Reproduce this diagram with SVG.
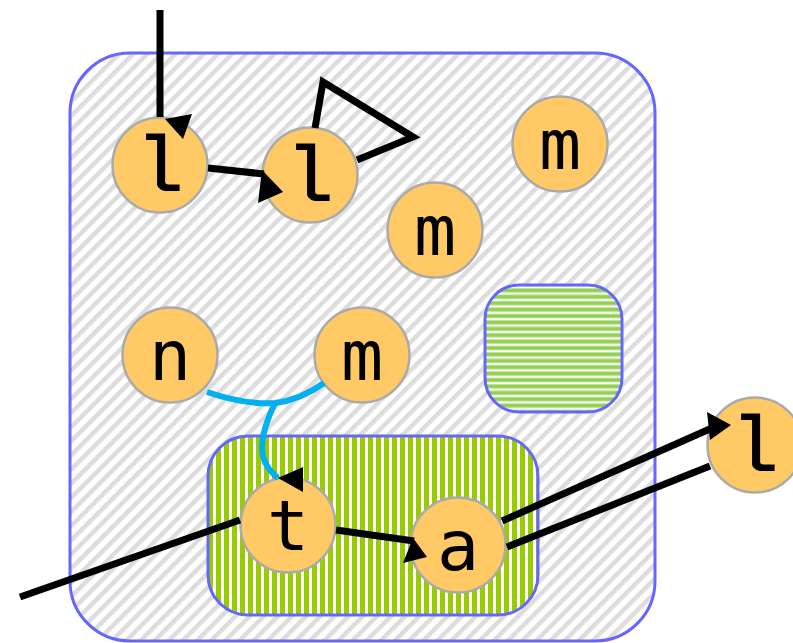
<svg xmlns="http://www.w3.org/2000/svg" width="793" height="643" viewBox="0 0 793 643">
  <defs>
    <pattern id="diag" width="10" height="10" patternUnits="userSpaceOnUse" patternTransform="rotate(45)">
      <rect width="10" height="10" fill="#ffffff"/>
      <rect width="4.5" height="10" fill="#dcdcdc"/>
    </pattern>
    <pattern id="hstripe" width="8" height="6.4" patternUnits="userSpaceOnUse">
      <rect width="8" height="6.4" fill="#ffffff"/>
      <rect y="0" width="8" height="4.8" fill="#c8e8a8"/>
      <rect y="0.8" width="8" height="3.2" fill="#92d050"/>
    </pattern>
    <pattern id="vstripe" width="8" height="8" patternUnits="userSpaceOnUse">
      <rect width="8" height="8" fill="#ffffff"/>
      <rect x="0" width="5" height="8" fill="#99cc00"/>
    </pattern>
  </defs>
  <style>
    .group { stroke: #6666ff; stroke-width: 3; }
    .node circle { fill: #ffc966; stroke: #aaaaaa; stroke-width: 2.5; }
    .node text { font-family: "DejaVu Sans Mono", "Liberation Mono", monospace; font-size: 70px; fill: #000000; text-anchor: middle; }
    .node text.slab { font-family: "Liberation Mono", "DejaVu Sans Mono", monospace; font-size: 78px; stroke: #000000; stroke-width: 1.2; }
    .edge { fill: none; stroke: #000000; stroke-width: 7; }
    .link { fill: none; stroke: #00b0f0; stroke-width: 6; }
    .head { fill: #000000; }
  </style>

  <!-- containers -->
  <g id="groups">
    <rect id="outer" class="group" x="70" y="53" width="585" height="588" rx="60" fill="url(#diag)"/>
    <rect id="box-h" class="group" x="485" y="285" width="137" height="127" rx="34" fill="url(#hstripe)"/>
    <rect id="box-v" class="group" x="208" y="436" width="330" height="179" rx="40" fill="url(#vstripe)"/>
  </g>

  <!-- nodes -->
  <g id="n-l1" class="node"><circle cx="160" cy="165" r="47.5"/><text class="slab" x="160" y="191">l</text></g>
  <g id="n-l2" class="node"><circle cx="310" cy="175" r="47.5"/><text class="slab" x="310" y="201">l</text></g>
  <g id="n-m1" class="node"><circle cx="560" cy="144" r="47.5"/><text x="560" y="169">m</text></g>
  <g id="n-m2" class="node"><circle cx="435" cy="230" r="47.5"/><text x="435" y="255">m</text></g>
  <g id="n-n" class="node"><circle cx="170" cy="355" r="47.5"/><text x="170" y="380">n</text></g>
  <g id="n-m3" class="node"><circle cx="362" cy="355" r="47.5"/><text x="362" y="380">m</text></g>
  <g id="n-t" class="node"><circle cx="288" cy="525" r="47.5"/><text x="288" y="550">t</text></g>
  <g id="n-a" class="node"><circle cx="458" cy="545" r="47.5"/><text x="458" y="570">a</text></g>
  <g id="n-l3" class="node"><circle cx="755" cy="445" r="47.5"/><text class="slab" x="755" y="471">l</text></g>

  <!-- connectors (drawn last so arrowheads sit over the circles) -->
  <g id="edges">
    <line class="edge" x1="160" y1="10" x2="160" y2="117"/>
    <polygon class="head" points="165,119 192,114 183,139"/>
    <line class="edge" x1="208" y1="168" x2="264" y2="174"/>
    <polygon class="head" points="262,170 283,192 258,203"/>
    <polyline class="edge" points="315,128 323,82 413,137 357,160"/>
    <path class="link" d="M207,392 Q245,405 275,403 Q300,400 324,383"/>
    <path class="link" d="M275,403 Q262,430 262,448 Q262,465 278,478"/>
    <polygon class="head" points="278,478 303,467 303,492"/>
    <line class="edge" x1="20" y1="597" x2="240" y2="520"/>
    <line class="edge" x1="336" y1="530" x2="414" y2="541"/>
    <polygon class="head" points="413,538 427,557 403,563"/>
    <line class="edge" x1="502" y1="521" x2="712" y2="428"/>
    <polygon class="head" points="707,412 731,425 710,440"/>
    <line class="edge" x1="507" y1="547" x2="710" y2="466"/>
  </g>
</svg>
